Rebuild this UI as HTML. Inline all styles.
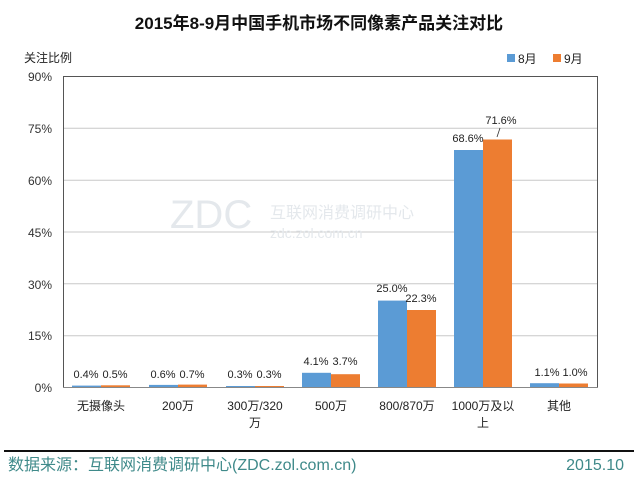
<!DOCTYPE html>
<html><head><meta charset="utf-8"><style>
body{margin:0;background:#fff;}
svg text{font-family:"Liberation Sans","Noto Sans CJK SC",sans-serif;}
</style></head><body>
<svg width="638" height="478" viewBox="0 0 638 478" xmlns="http://www.w3.org/2000/svg">
<rect width="638" height="478" fill="#fff"/>
<text x="319" y="29" text-anchor="middle" font-size="17" font-weight="bold" fill="#111">2015年8-9月中国手机市场不同像素产品关注对比</text>
<text x="24" y="62" font-size="12" fill="#222">关注比例</text>
<rect x="507" y="54" width="8" height="8" fill="#5b9bd5"/><text x="518" y="63" font-size="12" fill="#222">8月</text>
<rect x="553" y="54" width="8" height="8" fill="#ed7d31"/><text x="564" y="63" font-size="12" fill="#222">9月</text>
<g stroke="#c8c8c8" stroke-width="1">
<line x1="63" y1="76.5" x2="597" y2="76.5" stroke="#555"/>
<line x1="63" y1="128.3" x2="597" y2="128.3"/>
<line x1="63" y1="180.2" x2="597" y2="180.2"/>
<line x1="63" y1="232" x2="597" y2="232"/>
<line x1="63" y1="283.8" x2="597" y2="283.8"/>
<line x1="63" y1="335.7" x2="597" y2="335.7"/>
</g>
<line x1="63.5" y1="76" x2="63.5" y2="387" stroke="#555"/>
<line x1="597.5" y1="76" x2="597.5" y2="387" stroke="#555"/>
<line x1="63" y1="387.5" x2="598" y2="387.5" stroke="#888"/>
<g font-size="12" fill="#333" text-anchor="end">
<text x="52" y="81">90%</text><text x="52" y="133">75%</text><text x="52" y="185">60%</text>
<text x="52" y="237">45%</text><text x="52" y="289">30%</text><text x="52" y="340">15%</text><text x="52" y="392">0%</text>
</g>
<text x="170" y="228" font-size="40" fill="#e4e8ec" font-family="Liberation Sans">ZDC</text>
<text x="270" y="218" font-size="16" fill="#e4e8ec">互联网消费调研中心</text>
<text x="270" y="238" font-size="14" fill="#e4e8ec">zdc.zol.com.cn</text>
<g>
<rect x="72" y="385.6" width="29" height="1.4" fill="#5b9bd5"/><rect x="101" y="385.3" width="29" height="1.7" fill="#ed7d31"/>
<rect x="149" y="384.9" width="29" height="2.1" fill="#5b9bd5"/><rect x="178" y="384.6" width="29" height="2.4" fill="#ed7d31"/>
<rect x="226" y="386" width="29" height="1" fill="#5b9bd5"/><rect x="255" y="386" width="29" height="1" fill="#ed7d31"/>
<rect x="302" y="372.8" width="29" height="14.2" fill="#5b9bd5"/><rect x="331" y="374.2" width="29" height="12.8" fill="#ed7d31"/>
<rect x="378" y="300.6" width="29" height="86.4" fill="#5b9bd5"/><rect x="407" y="310" width="29" height="77" fill="#ed7d31"/>
<rect x="454" y="150" width="29" height="237" fill="#5b9bd5"/><rect x="483" y="139.5" width="29" height="247.5" fill="#ed7d31"/>
<rect x="530" y="383.2" width="29" height="3.8" fill="#5b9bd5"/><rect x="559" y="383.5" width="29" height="3.5" fill="#ed7d31"/>
</g>
<g font-size="11" fill="#222" text-anchor="middle">
<text x="86" y="378">0.4%</text><text x="115" y="378">0.5%</text>
<text x="163" y="378">0.6%</text><text x="192" y="378">0.7%</text>
<text x="240" y="378">0.3%</text><text x="269" y="378">0.3%</text>
<text x="316" y="365">4.1%</text><text x="345" y="365">3.7%</text>
<text x="392" y="292">25.0%</text><text x="421" y="302">22.3%</text>
<text x="468" y="142">68.6%</text><text x="501" y="124">71.6%</text>
<text x="547" y="376">1.1%</text><text x="575" y="376">1.0%</text>
</g>
<line x1="500" y1="128" x2="497" y2="137" stroke="#333" stroke-width="0.8"/>
<g font-size="12" fill="#222" text-anchor="middle">
<text x="101" y="410">无摄像头</text><text x="178" y="410">200万</text>
<text x="255" y="410">300万/320</text><text x="255" y="427">万</text>
<text x="331" y="410">500万</text><text x="407" y="410">800/870万</text>
<text x="483" y="410">1000万及以</text><text x="483" y="427">上</text>
<text x="559" y="410">其他</text>
</g>
<line x1="4" y1="451" x2="634" y2="451" stroke="#111" stroke-width="2"/>
<text x="8" y="470" font-size="16" fill="#3f8a8a">数据来源：互联网消费调研中心(ZDC.zol.com.cn)</text>
<text x="624" y="470" font-size="16" fill="#3f8a8a" text-anchor="end">2015.10</text>
</svg>
</body></html>
